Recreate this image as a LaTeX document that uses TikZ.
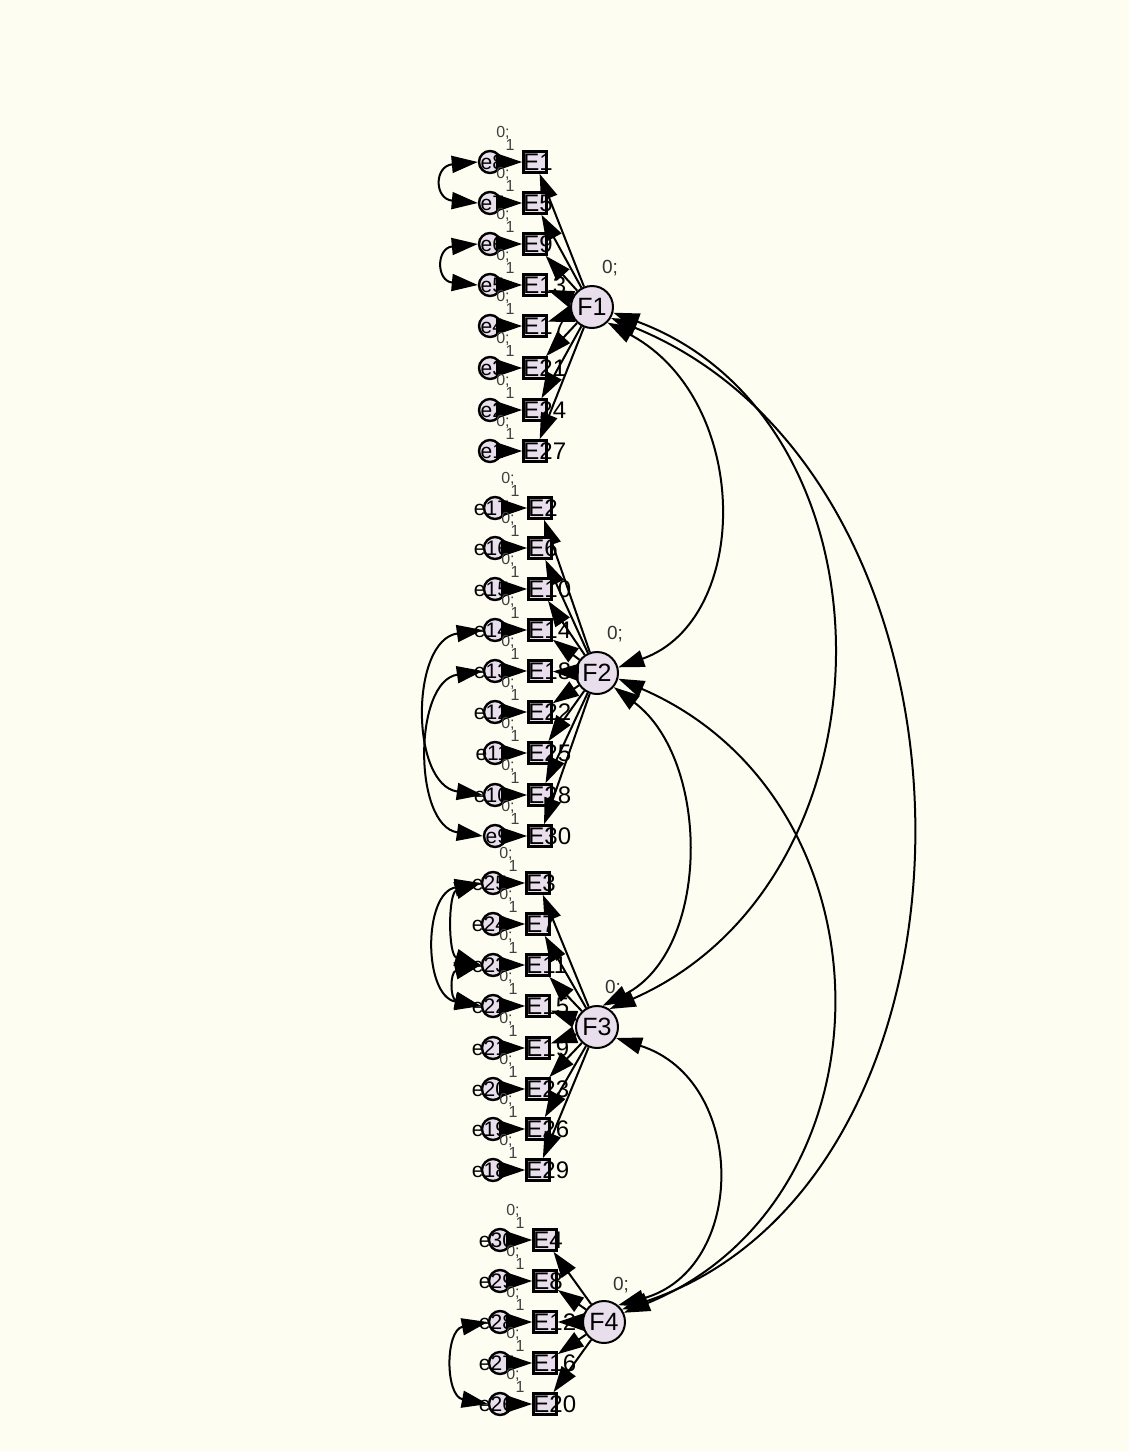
\documentclass[tikz,border=0pt]{standalone}
\usepackage{fontspec}
\setmainfont{Liberation Sans}
\usetikzlibrary{arrows.meta}
\definecolor{bg}{RGB}{253,253,242}
\definecolor{nodefill}{RGB}{232,222,236}
\begin{document}
\begin{tikzpicture}[x=1pt,y=-1pt,
 arr/.style={line width=2pt,-{Triangle[length=26pt,width=17pt]}},
 cov/.style={line width=2pt,{Triangle[length=26pt,width=17pt]}-{Triangle[length=26pt,width=17pt]}},
 errc/.style={circle,draw,line width=2.4pt,fill=nodefill,minimum size=22pt,inner sep=0pt},
 obs/.style={rectangle,draw,line width=2.6pt,fill=nodefill,minimum width=23pt,minimum height=21pt,inner sep=0pt},
 lat/.style={circle,draw,line width=2pt,fill=nodefill,minimum size=42pt,inner sep=0pt,font=\fontsize{25}{25}\selectfont},
 elab/.style={font=\fontsize{21}{21}\selectfont,inner sep=0pt,anchor=east},
 olab/.style={font=\fontsize{24}{24}\selectfont,inner sep=0pt,anchor=west},
 smalllab/.style={font=\fontsize{16}{16}\selectfont,inner sep=0pt,text=black!75},
 flab/.style={font=\fontsize{19}{19}\selectfont,inner sep=0pt,text=black!80}]
\fill[bg] (0,0) rectangle (1129,1452);
\useasboundingbox (0,0) rectangle (1129,1452);

% latent factors
\node[lat] (F1) at (592,307) {F1};
\node[lat] (F2) at (597,673) {F2};
\node[lat] (F3) at (597,1027) {F3};
\node[lat] (F4) at (604,1322) {F4};
\node[flab] (m1) at (610,268) {0;};
\node[flab] (m2) at (615,634) {0;};
\node[flab] (m3) at (613,988) {0;};
\node[flab] (m4) at (621,1285) {0;};

% group F1
\foreach \y/\e/\E in {162/8/1,203/7/5,244/6/9,285/5/13,326/4/17,368/3/21,410/2/24,451/1/27}{
 \node[errc] (e\e) at (490,\y) {};
 \node[obs] (E\E) at (535,\y) {};
 \draw[arr] (e\e) -- (E\E);
 \draw[arr] (F1) -- (E\E);
 \node[elab] (le\e) at ([xshift=2pt]e\e.east) {e\e};
 \node[olab] (lE\E) at ([xshift=1pt]E\E.west) {E\E};
 \node[smalllab] (z\e) at (503,{\y-29}) {0;};
 \node[smalllab] (o\e) at (510,{\y-17}) {1};
}
% group F2
\foreach \y/\e/\E in {508/17/2,548/16/6,589/15/10,630/14/14,671/13/18,712/12/22,753/11/25,795/10/28,836/9/30}{
 \node[errc] (e\e) at (495,\y) {};
 \node[obs] (E\E) at (540,\y) {};
 \draw[arr] (e\e) -- (E\E);
 \draw[arr] (F2) -- (E\E);
 \node[elab] (le\e) at ([xshift=2pt]e\e.east) {e\e};
 \node[olab] (lE\E) at ([xshift=1pt]E\E.west) {E\E};
 \node[smalllab] (z\e) at (508,{\y-29}) {0;};
 \node[smalllab] (o\e) at (515,{\y-17}) {1};
}
% group F3
\foreach \y/\e/\E in {883/25/3,924/24/7,965/23/11,1006/22/15,1048/21/19,1089/20/23,1129/19/26,1170/18/29}{
 \node[errc] (e\e) at (493,\y) {};
 \node[obs] (E\E) at (538,\y) {};
 \draw[arr] (e\e) -- (E\E);
 \draw[arr] (F3) -- (E\E);
 \node[elab] (le\e) at ([xshift=2pt]e\e.east) {e\e};
 \node[olab] (lE\E) at ([xshift=1pt]E\E.west) {E\E};
 \node[smalllab] (z\e) at (506,{\y-29}) {0;};
 \node[smalllab] (o\e) at (513,{\y-17}) {1};
}
% group F4
\foreach \y/\e/\E in {1240/30/4,1281/29/8,1322/28/12,1363/27/16,1404/26/20}{
 \node[errc] (e\e) at (500,\y) {};
 \node[obs] (E\E) at (545,\y) {};
 \draw[arr] (e\e) -- (E\E);
 \draw[arr] (F4) -- (E\E);
 \node[elab] (le\e) at ([xshift=2pt]e\e.east) {e\e};
 \node[olab] (lE\E) at ([xshift=1pt]E\E.west) {E\E};
 \node[smalllab] (z\e) at (513,{\y-29}) {0;};
 \node[smalllab] (o\e) at (520,{\y-17}) {1};
}

% error covariances
\draw[cov] (e8.west) .. controls (434,166) and (434,199) .. (e7.west);
\draw[cov] (e6.west) .. controls (436,248) and (436,281) .. (e5.west);
\draw[cov] (e14.west) .. controls (410,640) and (410,785) .. (e10.west);
\draw[cov] (e13.west) .. controls (413,681) and (413,826) .. (e9.west);
\draw[cov] (e25.west) .. controls (423,893) and (423,996) .. (e22.west);
\draw[cov] (e25.west) .. controls (448,893) and (448,955) .. (e23.west);
\draw[cov] (e23.west) .. controls (450,972) and (450,999) .. (e22.west);
\draw[cov] (e28.west) .. controls (445,1330) and (445,1396) .. (e26.west);

% factor covariances
\draw[cov] (F1.-45) .. controls (752,400) and (752,620) .. (F2.15);
\draw[cov] (F1.-15) .. controls (903,420) and (903,880) .. (F3.55);
\draw[cov] (F1.-30) .. controls (1007,480) and (1007,1180) .. (F4.35);
\draw[cov] (F2.-40) .. controls (711,760) and (711,950) .. (F3.75);
\draw[cov] (F2.-15) .. controls (899,800) and (899,1200) .. (F4.25);
\draw[cov] (F3.-30) .. controls (748,1080) and (748,1270) .. (F4.50);
\end{tikzpicture}
\end{document}
